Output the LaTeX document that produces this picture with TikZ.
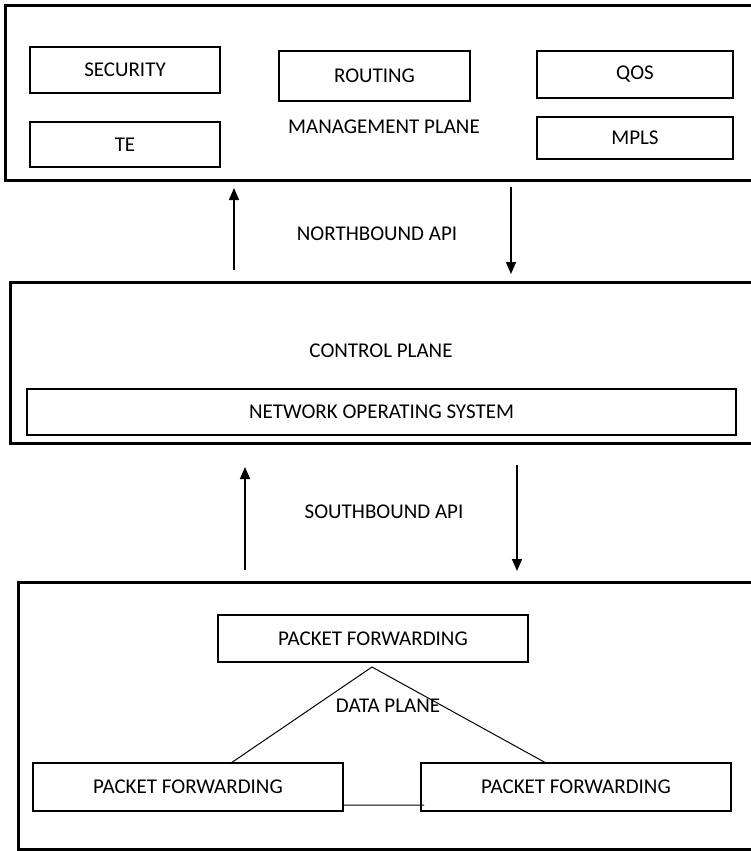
\documentclass[tikz,border=0pt]{standalone}
\usepackage{fontspec}
\setmainfont{Carlito}
\usepackage{tikz}
\usetikzlibrary{arrows.meta}

\tikzset{
  plane/.style={draw,rectangle,line width=3pt,inner sep=0pt},
  box/.style={draw,rectangle,line width=2.2pt,inner sep=0pt},
  txt/.style={inner sep=0pt},
  api/.style={line width=1.6pt,-{Triangle[length=12pt,width=10pt]}},
  link/.style={line width=1pt}
}

\begin{document}
\begin{tikzpicture}[x=1pt,y=-1pt,font=\fontsize{21}{25}\selectfont]
        \useasboundingbox (0,0) rectangle (751,851);
        \clip (0,0) rectangle (751,851);

        %management plane
        \node[style={plane,minimum width=765pt,minimum height=174pt}] (mp) at (387.5,93){};
        \node[style={box,minimum width=190pt,minimum height=46pt}] (sec) at (125,70){SECURITY};
        \node[style={box,minimum width=190pt,minimum height=45pt}] (te) at (125,144.5){TE};
        \node[style={box,minimum width=191pt,minimum height=50pt}] (rout) at (374.5,76){ROUTING};
        \node[style={box,minimum width=196pt,minimum height=47pt}] (qos) at (635,74.5){QOS};
        \node[style={box,minimum width=196pt,minimum height=42pt}] (mpls) at (635,138){MPLS};
        \node[style=txt] (mptxt) at (384,127){MANAGEMENT PLANE};

        %northbound
        \coordinate (n1) at (234,270);
        \coordinate (n2) at (234,188);
        \coordinate (n3) at (511,187);
        \coordinate (n4) at (511,274);
        \node[style=txt] (nb) at (377,234){NORTHBOUND API};
        \draw[api] (n1)--(n2);
        \draw[api] (n3)--(n4);

        %control plane
        \node[style={plane,minimum width=760pt,minimum height=161pt}] (cp) at (390,362.5){};
        \node[style=txt] (cptxt) at (381,351){CONTROL PLANE};
        \node[style={box,minimum width=709pt,minimum height=46pt}] (nos) at (381.5,412){NETWORK OPERATING SYSTEM};

        %southbound
        \coordinate (s1) at (245,570);
        \coordinate (s2) at (245,467);
        \coordinate (s3) at (517,465);
        \coordinate (s4) at (517,571);
        \node[style=txt] (sb) at (384,512){SOUTHBOUND API};
        \draw[api] (s1)--(s2);
        \draw[api] (s3)--(s4);

        %data plane
        \node[style={plane,minimum width=752pt,minimum height=267pt}] (dp) at (394,715.5){};
        \node[style={box,minimum width=310pt,minimum height=47pt}] (pftop) at (373,638.5){PACKET FORWARDING};
        \node[style={box,minimum width=310pt,minimum height=48pt}] (pfleft) at (188,787){PACKET FORWARDING};
        \node[style={box,minimum width=310pt,minimum height=48pt}] (pfright) at (576,787){PACKET FORWARDING};
        \node[style=txt] (dptxt) at (388,706){DATA PLANE};
        \coordinate (apex) at (372,667);
        \coordinate (lfoot) at (231,763);
        \coordinate (rfoot) at (546,763);
        \coordinate (h1) at (343,805);
        \coordinate (h2) at (424,805);
        \draw[style=link] (lfoot)--(apex)--(rfoot) (h1)--(h2);
\end{tikzpicture}
\end{document}
